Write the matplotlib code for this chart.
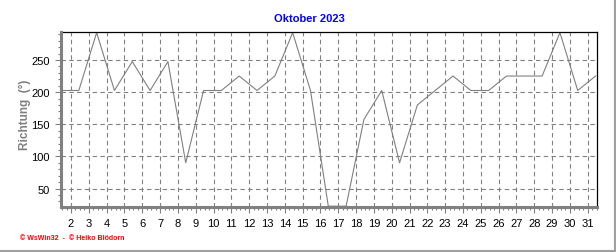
import matplotlib.pyplot as plt
from matplotlib.lines import Line2D
from matplotlib.ticker import MultipleLocator

# Tageswerte Windrichtung Oktober 2023
tage = list(range(1, 32))
richtung = [202.5, 202.5, 292.5, 202.5, 247.5, 202.5, 247.5, 90, 202.5, 202.5,
            225, 202.5, 225, 292.5, 202.5, 22.5, 22.5, 157.5, 202.5, 90,
            180, 202.5, 225, 202.5, 202.5, 225, 225, 225, 292.5, 202.5, 225]
x_ticks = list(range(2, 32))
y_ticks = [50, 100, 150, 200, 250]

grau = '#808080'
schrift = ['Liberation Sans', 'DejaVu Sans']

fig = plt.figure(figsize=(6.16, 2.53), dpi=100)
ax = fig.add_axes([61 / 616, 1 - 207.5 / 253, 536 / 616, 174.5 / 253])

# Messwerte liegen etwas vor der Tagesmarke
x_werte = [t + 0.44 for t in tage]
ax.plot(x_werte, richtung, color=grau, linewidth=0.8, zorder=2)

ax.set_xlim(1.44, 31.52)
ax.set_ylim(22, 293.5)
ax.set_xticks(x_ticks)
ax.set_xticklabels([str(t) for t in x_ticks], fontsize=8, family=schrift)
ax.set_yticks(y_ticks)
ax.set_yticklabels([str(v) for v in y_ticks], fontsize=8, family=schrift)
ax.xaxis.set_minor_locator(MultipleLocator(0.25))
ax.yaxis.set_minor_locator(MultipleLocator(10))

ax.tick_params(axis='both', which='major', length=4, width=0.8, color=grau, pad=4)
ax.tick_params(axis='both', which='minor', length=2, width=0.8, color=grau)

ax.grid(True, which='major', color=grau, linestyle=(0, (4, 3)), linewidth=0.8)
ax.set_axisbelow(True)

for seite in ['left', 'bottom']:
    ax.spines[seite].set_color(grau)
    ax.spines[seite].set_linewidth(2.2)
    ax.spines[seite].set_zorder(4)
for seite in ['top', 'right']:
    ax.spines[seite].set_color('black')
    ax.spines[seite].set_linewidth(0.9)

fig.text(309 / 616, 1 - 19 / 253, 'Oktober 2023', color='#0000ff', fontsize=8,
         fontweight='bold', ha='center', va='center', family=schrift)
fig.text(25 / 616, 1 - 115 / 253, 'Richtung  (°)', color=grau, fontsize=8.5,
         fontweight='bold', rotation=90, ha='center', va='center', family=schrift)
fig.text(20 / 616, 1 - 239 / 253, '© WsWin32  -  © Heiko Blödorn', color='#ff0000',
         fontsize=5, fontweight='bold', ha='left', va='center', family=schrift)

# Rahmen rechts und unten
fig.add_artist(Line2D([0, 615 / 616], [1.5 / 253, 1.5 / 253], color='#a0a0a0', linewidth=1.5))
fig.add_artist(Line2D([614.5 / 616, 614.5 / 616], [1.5 / 253, 1], color='#a0a0a0', linewidth=1.5))

fig.savefig('out.png', dpi=100)
